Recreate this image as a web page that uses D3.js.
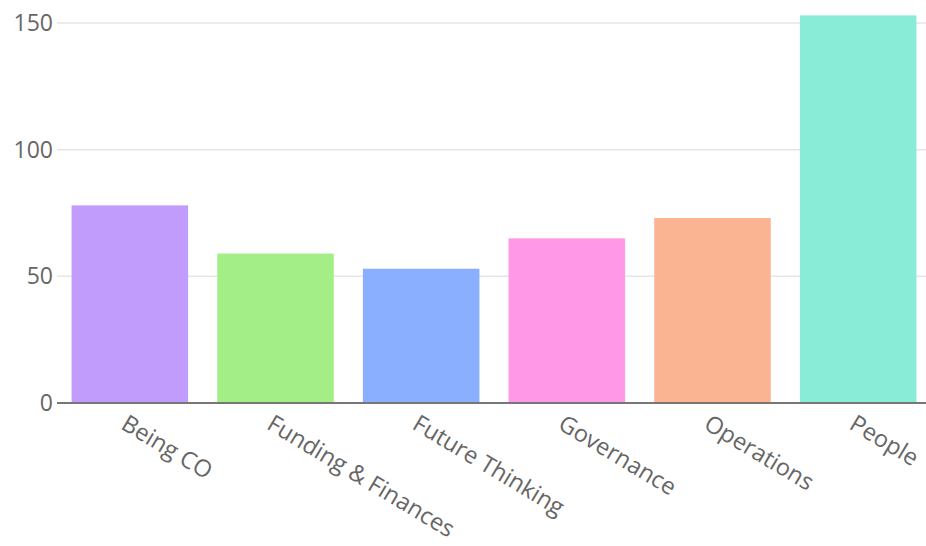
<!DOCTYPE html>
<html>
<head>
<meta charset="utf-8">
<script src="https://cdn.jsdelivr.net/npm/d3@7"></script>
<style>
  body { margin: 0; background: #fff; }
  svg { display: block; font-family: "Open Sans", sans-serif; }
  .tick text { fill: #666; }
</style>
</head>
<body>
<svg></svg>
<script>
margin = ({top: 23, right: 0, bottom: 143, left: 57})

var width = 926
var height = 546

var categories = ["Being CO", "Funding & Finances", "Future Thinking", "Governance", "Operations", "People"]
var values = [78, 59, 53, 65, 73, 153]
var colors = ["#c19cfc", "#a4ee88", "#8aaffe", "#ff98e7", "#fbb492", "#88ecd6"]
var yTicks = [0, 50, 100, 150]

var svg = d3.select("svg")
            .attr("width", width)
            .attr("height", height)

x = d3.scaleBand()
  .domain(categories)
  .range([margin.left, 931])
  .paddingInner(0.2)
  .paddingOuter(0.1)

y = d3.scaleLinear()
  .domain([0, 150])
  .range([height - margin.bottom, margin.top])

// gridlines
svg.append("g")
  .selectAll("line")
  .data(yTicks.slice(1))
  .join("line")
    .attr("x1", margin.left)
    .attr("x2", width)
    .attr("y1", d => y(d))
    .attr("y2", d => y(d))
    .attr("stroke", "#e6e6e6")
    .attr("stroke-width", 1.5)

// y axis labels
yAxis = g => g
  .attr("transform", `translate(${margin.left},0)`)
  .call(d3.axisLeft(y).tickValues(yTicks).tickSize(0).tickPadding(4))
  .call(g => g.selectAll(".domain").remove())
  .call(g => g.selectAll("text").attr("font-size", 23).attr("font-family", "Open Sans"))

svg.append("g").call(yAxis)

// bars
svg.append("g")
  .selectAll("rect")
  .data(values)
  .join("rect")
    .attr("x", (d, i) => x(categories[i]))
    .attr("y", d => y(d))
    .attr("width", x.bandwidth())
    .attr("height", d => y(0) - y(d))
    .attr("fill", (d, i) => colors[i])

// zero line
svg.append("line")
  .attr("x1", margin.left)
  .attr("x2", width)
  .attr("y1", y(0))
  .attr("y2", y(0))
  .attr("stroke", "#777")
  .attr("stroke-width", 2)

// x labels
svg.append("g")
  .selectAll("text")
  .data(categories)
  .join("text")
    .attr("transform", d => `translate(${x(d) + x.bandwidth() / 2 - 1},${y(0) + 10}) rotate(31)`)
    .attr("dy", "0.75em")
    .attr("text-anchor", "start")
    .attr("font-size", 23.5)
    .attr("fill", "#666")
    .text(d => d)
</script>
</body>
</html>
